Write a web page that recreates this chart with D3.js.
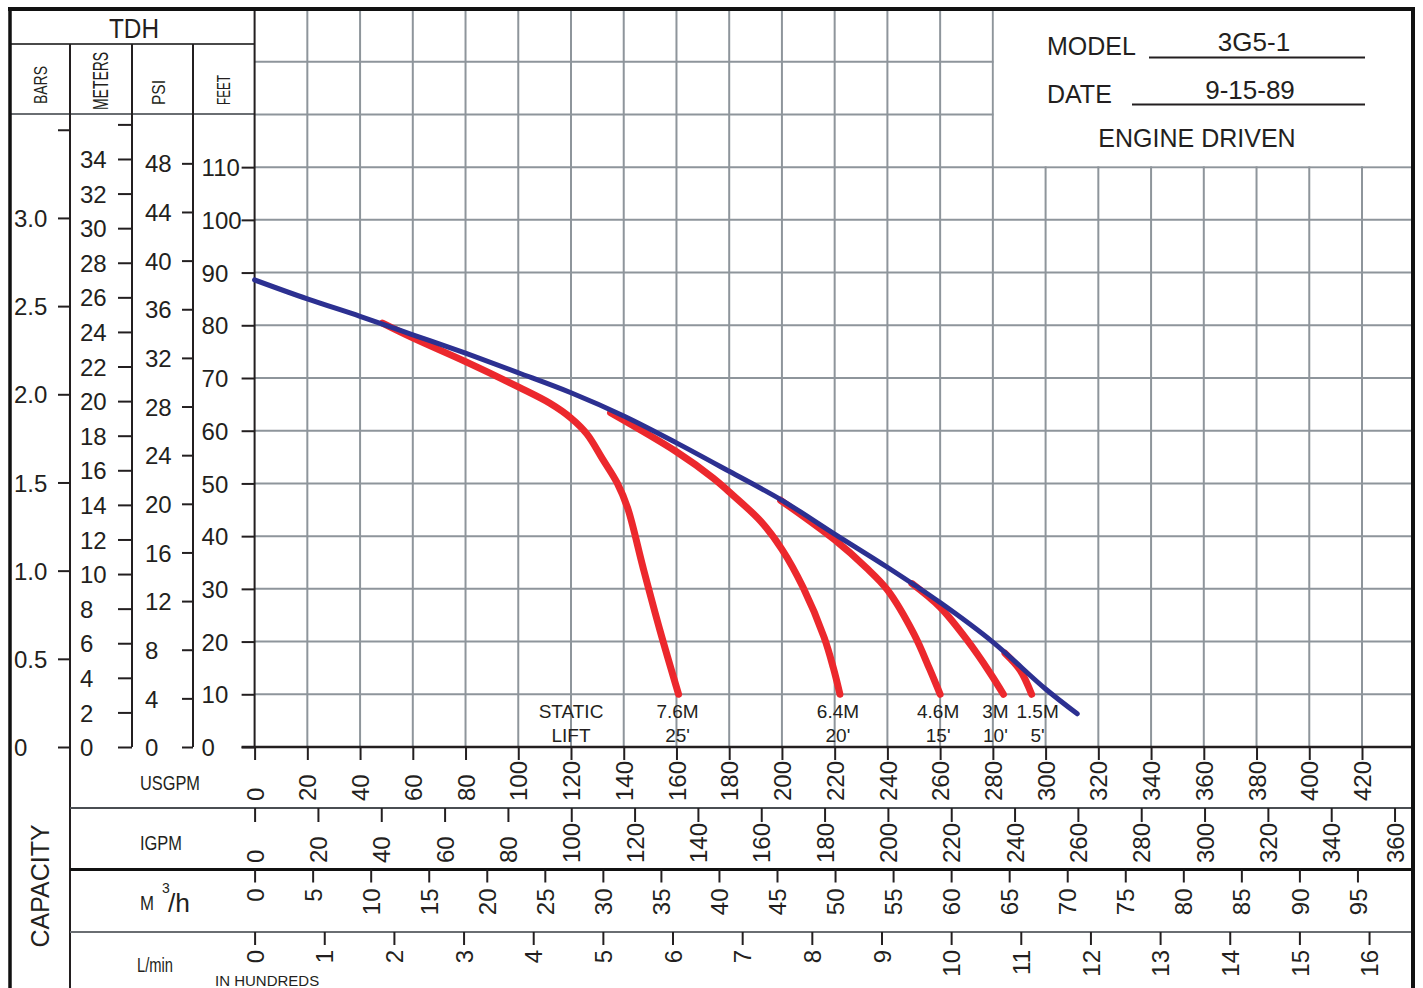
<!DOCTYPE html>
<html lang="en">
  <head>
    <title>3G5-1 pump curve</title>
    <meta charset="UTF-8">
    <script src="https://d3js.org/d3.v7.min.js"></script>
    <style>
      * { margin: 0; padding: 0; }
      body { background: white; }
      svg { display: block; font-family: 'Liberation Sans', Arial, sans-serif; }
      text { fill: #231f20; }
      .grid line { stroke: #8e959b; stroke-width: 2; }
      .ax .domain { display: none; }
      .ax line { stroke: #231f20; stroke-width: 2; }
      .ax text { font-size: 24px; font-family: 'Liberation Sans', Arial, sans-serif; fill: #231f20; }
    </style>
  </head>
  <body>
    <script>
      // head capacity curve (max), USGPM vs feet
      const blueGpm = [0, 20, 40, 60, 80, 100, 120, 140, 160, 180, 200, 220, 240, 260, 280, 300, 312]
      const blueFt  = [88.6, 85.0, 81.7, 78.2, 74.7, 71.0, 67.2, 62.8, 57.7, 52.3, 46.8, 40.4, 34.1, 27.4, 19.9, 11.0, 6.3]

      // static lift curves
      const lift25Gpm = [48.5, 60, 80, 100, 112, 120, 126, 132, 137.5, 141.5, 147.3, 153.7, 160.8]
      const lift25Ft  = [80.4, 77.6, 73.1, 68.3, 65.2, 62.4, 59.4, 54.6, 50.1, 45.3, 34.1, 22.2, 10]
      const lift20Gpm = [135, 160, 174, 180, 192, 200, 208, 216, 219.5, 222]
      const lift20Ft  = [63.4, 56.0, 51.0, 48.4, 42.8, 37.5, 30.3, 20.8, 15, 10]
      const lift15Gpm = [199.5, 220, 232, 240, 250, 256, 260]
      const lift15Ft  = [46.8, 39.3, 34.0, 29.8, 21.5, 14.8, 10]
      const lift10Gpm = [249.3, 260, 270.2, 279, 284]
      const lift10Ft  = [31.0, 26.5, 20.3, 14.0, 10]
      const lift5Gpm  = [284.6, 290.3, 294.7]
      const lift5Ft   = [17.8, 14.6, 10]

      const liftMeters = ['7.6M', '6.4M', '4.6M', '3M', '1.5M']
      const liftFeet   = ["25'", "20'", "15'", "10'", "5'"]

      // tick values
      const feetTicks   = d3.range(0, 111, 10)
      const psiTicks    = d3.range(0, 49, 4)
      const meterTicks  = d3.range(0, 37, 2)
      const barTicks    = d3.range(0, 3.51, 0.5)
      const usgpmTicks  = d3.range(0, 421, 20)
      const igpmTicks   = d3.range(0, 361, 20)
      const m3hTicks    = d3.range(0, 96, 5)
      const lminTicks   = d3.range(0, 17, 1)

      const model = '3G5-1'
      const date = '9-15-89'

      const width = 1423
      const height = 988
      const plotLeft = 254.6
      const plotRight = 1413
      const plotTop = 9
      const plotBottom = 747

      const x = d3.scaleLinear().domain([0, 420]).range([plotLeft, 1362])
      const y = d3.scaleLinear().domain([0, 140]).range([plotBottom, plotTop])

      // unit conversions onto the feet / usgpm scales
      const FT_PER_PSI = 2.3067, FT_PER_M = 3.2808, FT_PER_BAR = 33.455
      const GPM_PER_IGPM = 1.20095, GPM_PER_M3H = 4.40287, GPM_PER_100LMIN = 26.4172

      const psiY = d3.scaleLinear().domain([0, 1]).range([y(0), y(FT_PER_PSI)])
      const meterY = d3.scaleLinear().domain([0, 1]).range([y(0), y(FT_PER_M)])
      const barY = d3.scaleLinear().domain([0, 1]).range([y(0), y(FT_PER_BAR)])
      const igpmX = d3.scaleLinear().domain([0, 1]).range([x(0), x(GPM_PER_IGPM)])
      const m3hX = d3.scaleLinear().domain([0, 1]).range([x(0), x(GPM_PER_M3H)])
      const lminX = d3.scaleLinear().domain([0, 1]).range([x(0), x(GPM_PER_100LMIN)])

      const svg = d3.select('body').append('svg')
        .attr('width', width).attr('height', height)

      // grid
      const grid = svg.append('g').attr('class', 'grid')
      grid.selectAll('.v').data(usgpmTicks.slice(1)).enter().append('line')
        .attr('x1', d => x(d)).attr('x2', d => x(d))
        .attr('y1', plotTop).attr('y2', plotBottom)
      grid.selectAll('.h').data(d3.range(10, 131, 10)).enter().append('line')
        .attr('x1', plotLeft).attr('x2', plotRight)
        .attr('y1', d => y(d)).attr('y2', d => y(d))

      // model box
      svg.append('rect')
        .attr('x', x(280) + 1).attr('y', plotTop + 1)
        .attr('width', plotRight - x(280) - 2).attr('height', y(110) - plotTop - 2)
        .attr('fill', 'white')

      const hline = (x1, x2, yy, color, w) => svg.append('line')
        .attr('x1', x1).attr('x2', x2).attr('y1', yy).attr('y2', yy)
        .attr('stroke', color).attr('stroke-width', w)
      const vline = (xx, y1, y2, color, w) => svg.append('line')
        .attr('x1', xx).attr('x2', xx).attr('y1', y1).attr('y2', y2)
        .attr('stroke', color).attr('stroke-width', w)

      // frame lines
      hline(10, 255, 44, '#4a4a4a', 2)
      hline(10, 255, 114, '#6a6e72', 2)
      vline(70, 44, height, '#231f20', 2)
      vline(132, 44, plotBottom, '#231f20', 2)
      vline(193, 44, plotBottom, '#231f20', 2)
      vline(plotLeft, plotTop, plotBottom, '#231f20', 2)
      hline(plotLeft - 13, plotRight, plotBottom, '#231f20', 2.5)
      hline(70, plotRight, 808, '#4a4e52', 2)
      hline(70, plotRight, 869.5, '#111', 3)
      hline(70, plotRight, 932, '#6a6e72', 2)
      vline(10, 8, height, '#111', 3.5)
      vline(plotRight, 8, height, '#111', 4)
      hline(8, plotRight + 2, 9, '#111', 4)

      // left axes
      const leftAxis = (scale, ticks, atX, size, labelX, fmt, skip) => {
        const g = svg.append('g').attr('class', 'ax')
          .attr('transform', `translate(${atX},0)`)
          .call(d3.axisLeft(scale).tickValues(ticks).tickSize(size).tickSizeOuter(0)
            .tickFormat(d => skip(d) ? '' : fmt(d)))
        g.selectAll('text').attr('x', labelX).attr('text-anchor', 'start').attr('dy', '0.36em')
        return g
      }
      leftAxis(y, feetTicks, plotLeft, 13, -53, d => d, () => false)
      leftAxis(d3.scaleLinear().domain([0, 48]).range([psiY(0), psiY(48)]), psiTicks, 193, 11, -48, d => d, () => false)
      leftAxis(d3.scaleLinear().domain([0, 36]).range([meterY(0), meterY(36)]), meterTicks, 132, 14, -52, d => d, d => d === 36)
      leftAxis(d3.scaleLinear().domain([0, 3.5]).range([barY(0), barY(3.5)]), barTicks, 70, 12, -56,
        d => d === 0 ? '0' : d3.format('.1f')(d), d => d > 3.2)

      // bottom axes
      const bottomAxis = (scale, ticks, rowTop, size, off, anchor) => {
        const g = svg.append('g').attr('class', 'ax')
          .attr('transform', `translate(0,${rowTop})`)
          .call(d3.axisBottom(scale).tickValues(ticks).tickSize(size).tickSizeOuter(0))
        g.selectAll('text')
          .attr('y', null).attr('x', null).attr('dy', '0.36em')
          .attr('text-anchor', anchor)
          .attr('transform', `translate(0,${off}) rotate(-90)`)
      }
      bottomAxis(x, usgpmTicks, plotBottom, 13, 54, 'start')
      bottomAxis(d3.scaleLinear().domain([0, 360]).range([igpmX(0), igpmX(360)]), igpmTicks, 808, 14, 55, 'start')
      bottomAxis(d3.scaleLinear().domain([0, 95]).range([m3hX(0), m3hX(95)]), m3hTicks, 869.5, 13, 19, 'end')
      bottomAxis(d3.scaleLinear().domain([0, 16]).range([lminX(0), lminX(16)]), lminTicks, 932, 13, 18, 'end')

      // header labels
      svg.append('text').text('TDH').attr('x', 134).attr('y', 38)
        .attr('text-anchor', 'middle').attr('font-size', 27)
        .attr('textLength', 50).attr('lengthAdjust', 'spacingAndGlyphs')
      const colHead = [['BARS', 47, 104, 38, 19], ['METERS', 108, 110, 58, 22], ['PSI', 165, 105, 25, 18], ['FEET', 230, 105, 30, 18]]
      colHead.forEach(([t, tx, ty, len, fs]) => {
        svg.append('text').text(t)
          .attr('transform', `translate(${tx},${ty}) rotate(-90)`)
          .attr('font-size', fs).attr('textLength', len).attr('lengthAdjust', 'spacingAndGlyphs')
      })

      const rowLabel = (t, tx, ty, fs, len) => svg.append('text').text(t)
        .attr('x', tx).attr('y', ty).attr('font-size', fs)
        .attr('textLength', len).attr('lengthAdjust', 'spacingAndGlyphs')
      rowLabel('USGPM', 140, 790, 21, 60)
      rowLabel('IGPM', 140, 850, 21, 42)
      rowLabel('M', 140, 910, 20, 14)
      svg.append('text').text('3').attr('x', 162).attr('y', 893).attr('font-size', 14)
      rowLabel('/h', 168, 912, 25, 22)
      rowLabel('L/min', 137, 972, 21, 36)
      svg.append('text').text('IN HUNDREDS').attr('x', 215).attr('y', 986).attr('font-size', 15)
      svg.append('text').text('CAPACITY')
        .attr('transform', 'translate(49,886) rotate(-90)')
        .attr('text-anchor', 'middle').attr('font-size', 25)

      // model box texts
      svg.append('text').text('MODEL').attr('x', 1047).attr('y', 55).attr('font-size', 25)
      hline(1149, 1365, 57.5, '#231f20', 2)
      svg.append('text').text(model).attr('x', 1254).attr('y', 51).attr('font-size', 26).attr('text-anchor', 'middle')
      svg.append('text').text('DATE').attr('x', 1047).attr('y', 103).attr('font-size', 25)
      hline(1132, 1365, 104.5, '#231f20', 2)
      svg.append('text').text(date).attr('x', 1250).attr('y', 99).attr('font-size', 26).attr('text-anchor', 'middle')
      svg.append('text').text('ENGINE DRIVEN').attr('x', 1197).attr('y', 147).attr('font-size', 25).attr('text-anchor', 'middle')

      // curves
      const line = d3.line().x(d => x(d[0])).y(d => y(d[1])).curve(d3.curveCatmullRom.alpha(0.5))
      const lifts = [
        [lift25Gpm, lift25Ft], [lift20Gpm, lift20Ft], [lift15Gpm, lift15Ft],
        [lift10Gpm, lift10Ft], [lift5Gpm, lift5Ft]
      ]
      lifts.forEach(([g, f]) => {
        svg.append('path').datum(d3.zip(g, f)).attr('d', line)
          .attr('fill', 'none').attr('stroke', '#ec282d').attr('stroke-width', 7)
          .attr('stroke-linecap', 'round').attr('stroke-linejoin', 'round')
      })
      svg.append('path').datum(d3.zip(blueGpm, blueFt)).attr('d', line)
        .attr('fill', 'none').attr('stroke', '#2c3091').attr('stroke-width', 5)
        .attr('stroke-linecap', 'round')

      // static lift labels
      svg.append('text').text('STATIC').attr('x', x(120)).attr('y', 718).attr('font-size', 19).attr('text-anchor', 'middle')
      svg.append('text').text('LIFT').attr('x', x(120)).attr('y', 742).attr('font-size', 19).attr('text-anchor', 'middle')
      const labelShift = [-1, -2, -2, -8, 6]
      lifts.forEach(([g], i) => {
        const cx = x(g[g.length - 1]) + labelShift[i]
        svg.append('text').text(liftMeters[i]).attr('x', cx).attr('y', 718).attr('font-size', 19).attr('text-anchor', 'middle')
        svg.append('text').text(liftFeet[i]).attr('x', cx).attr('y', 742).attr('font-size', 19).attr('text-anchor', 'middle')
      })
    </script>
  </body>
</html>
